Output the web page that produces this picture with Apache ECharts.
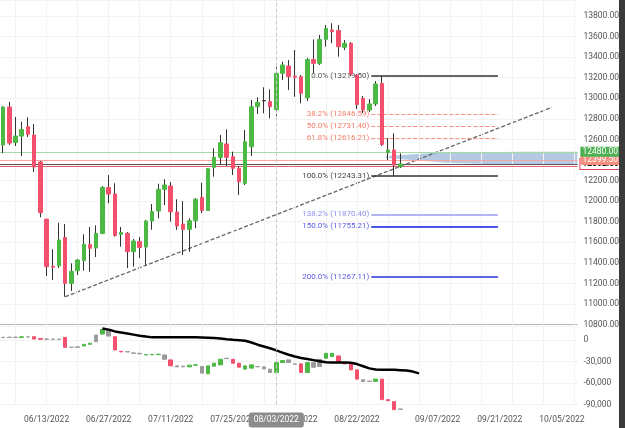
<!DOCTYPE html>
<html><head><meta charset="utf-8">
<script src="https://cdn.jsdelivr.net/npm/echarts@6/dist/echarts.min.js"></script>
<style>html,body{margin:0;padding:0;background:#fff}#c{width:625px;height:428px}</style>
</head><body><div id="c"></div>
<script>
// ---------- price candles (open, close, low, high) ----------
const candleO = [12546,12915,12570,12633,12724,12643,12381,11826,11368,11371,11647,11201,11324,11423,11578,11545,11685,12133,12069,11676,11687,11509,11608,11554,11807,11904,12115,12147,11895,11778,11726,11810,12037,11909,12329,12426,12556,12432,12319,12173,12529,12918,12975,12967,12890,13243,13314,13215,13210,13005,13377,13340,13573,13664,13659,13496,13535,13226,13000,12886,12945,13144,12473,12497,12335];
const candleC = [12915,12565,12633,12697,12650,12332,11888,11363,11358,11622,11201,11318,11428,11580,11542,11687,12133,12069,11666,11695,11509,11613,11550,11807,11899,12115,12157,11897,11758,11726,11810,12018,11909,12315,12426,12568,12426,12319,12189,12578,12918,12961,12977,12918,13240,13324,13210,13205,13049,13377,13340,13573,13680,13647,13502,13535,13236,12940,12886,12945,13139,12551,12497,12351,12362];
const candleL = [12468,12546,12536,12439,12624,12283,11843,11272,11233,11350,11071,11127,11282,11324,11314,11457,11681,11979,11655,11557,11350,11364,11447,11379,11722,11832,11962,11800,11720,11476,11508,11736,11882,11904,12238,12361,12342,12254,12060,12157,12439,12847,12854,12805,12828,13178,13081,13015,12951,12974,13243,13324,13502,13535,13404,13469,13217,12896,12857,12867,12925,12536,12400,12243.31,12322];
const candleH = [12925,12964,12818,12772,12815,12750,12391,11826,11532,11790,11778,11396,11438,11678,11749,11765,12147,12254,12174,11749,11700,11632,11651,11817,11972,12170,12212,12186,12018,12001,11833,12031,12179,12322,12514,12643,12698,12481,12342,12692,12983,13010,13107,13087,13307,13356,13372,13469,13226,13392,13572,13615,13712,13729,13712,13567,13547,13236,13022,12993,13168,13219.5,12614,12660,12465];
const dojiIdx = [42];

// ---------- lower pane indicator (open, close) and colour class ----------
const indO = [3400,3600,3900,3700,4400,4600,2000,1000,1400,800,3700,-10000,-10200,-8300,-6000,6900,8300,13800,4600,-15700,-16600,-18500,-18500,-20800,-20600,-20300,-20800,-27700,-36000,-37400,-37400,-35100,-36900,-47100,-36500,-34600,-25400,-26800,-32300,-40600,-39200,-36900,-37400,-40600,-45200,-31400,-27700,-33200,-33200,-45200,-31400,-36900,-25400,-23100,-22200,-32300,-32300,-41600,-55400,-57700,-57700,-54500,-83100,-85900,-96500];
const indC = [3800,3900,3700,4500,4200,1400,1000,1400,800,1200,-10200,-10200,-9500,-6000,-4500,-2300,14800,5500,-13900,-16600,-16200,-18000,-19200,-20300,-20100,-19800,-26800,-36000,-37400,-36500,-35100,-34500,-46200,-36000,-32300,-26800,-26000,-32300,-37900,-36000,-34600,-37400,-40200,-45200,-31400,-28600,-31400,-33700,-45200,-31400,-37900,-26800,-18500,-18500,-31400,-33200,-41600,-54500,-57700,-57300,-54500,-83100,-84500,-97000,-96100];
const indKind = ['n','n','n','g','n','r','r','n','n','n','r','n','n','g','g','n','g','n','r','r','n','n','n','g','g','g','n','r','n','n','g','g','n','g','g','g','n','r','r','g','g','n','n','n','g','g','n','n','r','g','n','n','g','g','r','r','r','r','n','n','g','r','r','r','n'];
const lineStart = 16;
const lineVals = [16000,14500,12000,10500,9000,7500,6000,4800,3700,3700,3700,3700,3700,3700,3700,3700,3500,3200,2800,2000,1000,300,-200,-1000,-3500,-6500,-9000,-11500,-14500,-17500,-20500,-23000,-25000,-26500,-28000,-29500,-31000,-31400,-31400,-31400,-31600,-33500,-36500,-39500,-41000,-41500,-41500,-41600,-42000,-42400,-44000,-46500];

// ---------- axis ticks ----------
const N_CAT = 93;
const tickIdx = [7,17,27,37,47,57,70,80,90];
const tickText = ['06/13/2022','06/27/2022','07/11/2022','07/25/2022','08/08/2022','08/22/2022','09/07/2022','09/21/2022','10/05/2022'];
const crossIdx = 44, crossText = '08/03/2022';

// ---------- fibonacci levels ----------
const fibPct = ['0.0%','38.2%','50.0%','61.8%','100.0%','138.2%','150.0%','200.0%'];
const fibVal = [13219.5,12846.59,12731.40,12616.21,12243.31,11870.40,11755.21,11267.11];
const fibFrom = 59.3, fibTo = 79.7;

// ---------- horizontal price levels ----------
const levelVal = [12480.00,12399.50,12362.00,12342.00];

// ---------- trend line (index, value) ----------
const trendIdx = [10,88.4];
const trendVal = [11071,12912];

// ---------- shaded profile polygon ----------
const profIdx = [61.6,68.8,83.3,92.5,92.5,83.3,72,61.6];
const profVal = [12439,12468,12481,12481,12351,12351,12371,12419];

const GREEN='#4cb944', RED='#f2506c', GRAY='#9a9a9a', FONT='Roboto, sans-serif';
const categories = Array.from({length:N_CAT},(_,i)=>{const k=tickIdx.indexOf(i);return k>=0?tickText[k]:'c'+i;});

const wickData = candleO.map((o,i)=>[o,candleC[i],candleL[i],candleH[i]]);
const bodyData = candleO.map((o,i)=>{
  const c=candleC[i], item={value:[o,c,Math.min(o,c),Math.max(o,c)]};
  if(dojiIdx.includes(i)) item.itemStyle={color:'#333',color0:'#333',borderColor:'#333',borderColor0:'#333'};
  return item;});
const indData = indO.map((o,i)=>{
  const c=indC[i], col= indKind[i]==='g'?GREEN:indKind[i]==='r'?RED:GRAY;
  return {value:[o,c,Math.min(o,c),Math.max(o,c)],itemStyle:{color:col,color0:col,borderColor:col,borderColor0:col}};});
const lineData = lineVals.map((v,k)=>[lineStart+k,v]);

const gridL=-1.11, gridW=578.5;
const vGrid = []; for(let i=2;i<N_CAT;i+=5) vGrid.push({xAxis:i});

const fibColors = ['#555','#f47c6a','#f47c6a','#f47c6a','#444','#9090ee','#5a5ae6','#5a5ae6'];
const fibLine = [
 {color:'#333',width:1.5,type:'solid'},{color:'#f6907f',width:1,type:'dashed'},{color:'#f6907f',width:1,type:'dashed'},{color:'#f6907f',width:1,type:'dashed'},
 {color:'#333',width:1.5,type:'solid'},{color:'#b4b4f2',width:2,type:'solid'},{color:'#4a56e4',width:2,type:'solid'},{color:'#5a66e6',width:2,type:'solid'}];
const fibMark = fibVal.map((v,k)=>[
  {coord:[fibFrom,v],lineStyle:fibLine[k],label:{show:true,position:'start',distance:2,formatter:fibPct[k]+' ('+v.toFixed(2)+')',color:fibColors[k],fontSize:8,fontFamily:FONT}},
  {coord:[fibTo,v]}]);

const levelStyles=[
 {line:{color:'#a6dba6',width:1},label:{backgroundColor:'#4caf50',color:'#fff'}},
 {line:{color:'#f5a89c',width:1},label:{backgroundColor:'#f58f80',color:'#fff'}},
 {line:{color:'#555',width:1.2},label:{backgroundColor:'#fff',color:'#111',borderColor:'#e0405a',borderWidth:1,fontWeight:'bold'}},
 {line:{color:'#e8606e',width:1},label:{show:false}}];
const levelMark = levelVal.map((v,k)=>({yAxis:v,lineStyle:Object.assign({type:'solid'},levelStyles[k].line),
  label:Object.assign({show:true,position:'end',distance:3,formatter:v.toFixed(2),fontSize:8.5,fontFamily:FONT,padding:[1,2,0,2]},levelStyles[k].label)}));
const levelMarkOrdered=[levelMark[3],levelMark[2],levelMark[1],levelMark[0]];

const chart = echarts.init(document.getElementById('c'),null,{renderer:'canvas'});
chart.setOption({
  animation:false,
  backgroundColor:'#fff',
  grid:[{left:gridL,width:gridW,top:0,height:324.6},{left:gridL,width:gridW,top:326,height:78.6}],
  xAxis:[
    {type:'category',gridIndex:0,data:categories,boundaryGap:true,axisTick:{show:false},axisLabel:{show:false},
     axisLine:{show:true,lineStyle:{color:'#aaa',type:'dotted'}},splitLine:{show:false},
     axisPointer:{show:true,value:crossIdx,status:'show',snap:false,type:'line',lineStyle:{color:'#c8c8c8',type:'dashed',width:1},label:{show:false}}},
    {type:'category',gridIndex:1,data:categories,boundaryGap:true,axisTick:{show:false},axisLine:{show:false},
     axisLabel:{interval:(i)=>tickIdx.includes(i),formatter:(v)=>v,color:'#555',fontSize:8.5,fontFamily:FONT,margin:11},
     axisPointer:{show:true,value:crossIdx,status:'show',snap:false,type:'line',lineStyle:{color:'#c8c8c8',type:'dashed',width:1},
       label:{show:true,formatter:()=>crossText,backgroundColor:'#8c8c8c',color:'#fff',fontSize:8.5,fontFamily:FONT,padding:[3,5],borderRadius:3,margin:8}}},
    {type:'value',gridIndex:0,min:-0.5,max:N_CAT-0.5,show:false}
  ],
  yAxis:[
    {type:'value',gridIndex:0,position:'right',min:10800,max:13955.6,interval:200,
     axisLine:{show:false},axisTick:{show:false},
     axisLabel:{formatter:(v)=>v.toFixed(2),color:'#555',fontSize:8.5,fontFamily:FONT,margin:6,showMaxLabel:false},
     splitLine:{show:true,lineStyle:{color:'#f2f2f2'}}},
    {type:'value',gridIndex:1,position:'right',min:-90000,max:19540,interval:30000,
     axisLine:{show:false},axisTick:{show:false},
     axisLabel:{formatter:(v)=>v.toLocaleString('en-US'),color:'#555',fontSize:8.5,fontFamily:FONT,margin:6,showMaxLabel:false},
     splitLine:{show:true,lineStyle:{color:'#f2f2f2'}}}
  ],
  series:[
    {type:'line',xAxisIndex:0,yAxisIndex:0,data:[],silent:true,z:1,
     markLine:{silent:true,symbol:'none',animation:false,lineStyle:{color:'#f3f3f3',width:1,type:'solid'},label:{show:false},data:vGrid}},
    {type:'custom',xAxisIndex:2,yAxisIndex:0,z:2,silent:true,
     data:profIdx.map((x,k)=>[x,profVal[k]]),
     renderItem:(params,api)=>{ if(params.dataIndex!==0) return null;
       const pts=profIdx.map((x,k)=>api.coord([x,profVal[k]]));
       return {type:'polygon',shape:{points:pts},style:{fill:'rgba(150,178,218,0.7)'}};}},
    {type:'line',xAxisIndex:2,yAxisIndex:0,data:[],z:3,silent:true,
     markLine:{silent:true,symbol:'none',animation:false,data:fibMark}},
    {type:'line',xAxisIndex:2,yAxisIndex:0,z:4,silent:true,symbol:'none',
     data:trendIdx.map((x,k)=>[x,trendVal[k]]),lineStyle:{color:'#666',width:1.3,type:[4,2]}},
    {type:'candlestick',xAxisIndex:0,yAxisIndex:0,z:5,barWidth:1,data:wickData,silent:true,
     itemStyle:{color:'#333',color0:'#333',borderColor:'#333',borderColor0:'#333',borderWidth:1}},
    {type:'candlestick',xAxisIndex:0,yAxisIndex:0,z:6,barWidth:4,data:bodyData,silent:true,
     itemStyle:{color:GREEN,color0:RED,borderColor:GREEN,borderColor0:RED,borderWidth:1},
     markLine:{silent:true,symbol:'none',animation:false,data:levelMarkOrdered}},
    {type:'line',xAxisIndex:1,yAxisIndex:1,data:[],silent:true,z:1,
     markLine:{silent:true,symbol:'none',animation:false,lineStyle:{color:'#f3f3f3',width:1,type:'solid'},label:{show:false},data:vGrid}},
    {type:'candlestick',xAxisIndex:1,yAxisIndex:1,z:5,barWidth:4,data:indData,silent:true,clip:false},
    {type:'line',xAxisIndex:1,yAxisIndex:1,z:6,silent:true,symbol:'none',data:lineData,
     lineStyle:{color:'#000',width:2.5}}
  ],
  graphic:[{type:'rect',right:0,top:0,shape:{width:6,height:428},style:{fill:'#3a3a3a'},z:100}]
});
</script></body></html>
